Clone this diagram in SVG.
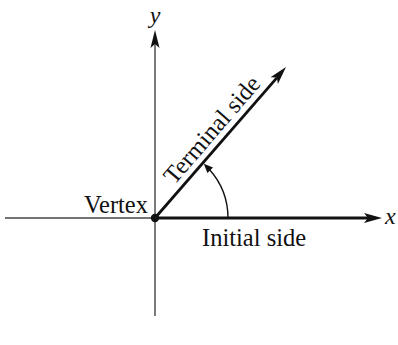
<svg xmlns="http://www.w3.org/2000/svg" width="398" height="345" viewBox="0 0 398 345">
<style>
.axis{stroke:#444;stroke-width:1.4;fill:none}
.ray{stroke:#111;stroke-width:2.8;fill:none}
.arc{stroke:#111;stroke-width:1.4;fill:none}
.head{fill:#111;stroke:none}
.lbl{font-family:"Liberation Serif",serif;font-size:24.5px;fill:#111}
.var{font-family:"Liberation Serif",serif;font-size:24px;font-style:italic;fill:#111}
</style>
<rect width="398" height="345" fill="#fff"/>
<g id="connectors">
<line class="axis" x1="5" y1="218" x2="155" y2="218"/>
<line class="axis" x1="155" y1="44" x2="155" y2="316"/>
<polygon class="head" points="155,30 150.5,48 155,44 159.5,48"/>
<line class="ray" x1="155" y1="218" x2="368" y2="218"/>
<polygon class="head" points="382,218 364,213 368,218 364,223"/>
<line class="ray" x1="155" y1="218" x2="277" y2="77.6"/>
<polygon class="head" points="286,67 277.9,83.9 276.9,77.6 270.5,77.3"/>
<path class="arc" d="M228,218 A73,73 0 0 0 209.2,169.2"/>
<polygon class="head" points="203.8,163.8 213,167.4 210.2,170.2 207.4,173"/>
</g>
<g id="vertex">
<circle cx="155" cy="218" r="4.2" fill="#111"/>
<text class="lbl" x="148" y="213" text-anchor="end">Vertex</text>
</g>
<g id="y-axis-label"><text class="var" x="155" y="23" text-anchor="middle">y</text></g>
<g id="x-axis-label"><text class="var" x="385" y="224">x</text></g>
<g id="initial-side"><text class="lbl" x="202" y="246">Initial side</text></g>
<g id="terminal-side"><text class="lbl" text-anchor="middle" transform="translate(218,135) rotate(-49.2)">Terminal side</text></g>
</svg>
